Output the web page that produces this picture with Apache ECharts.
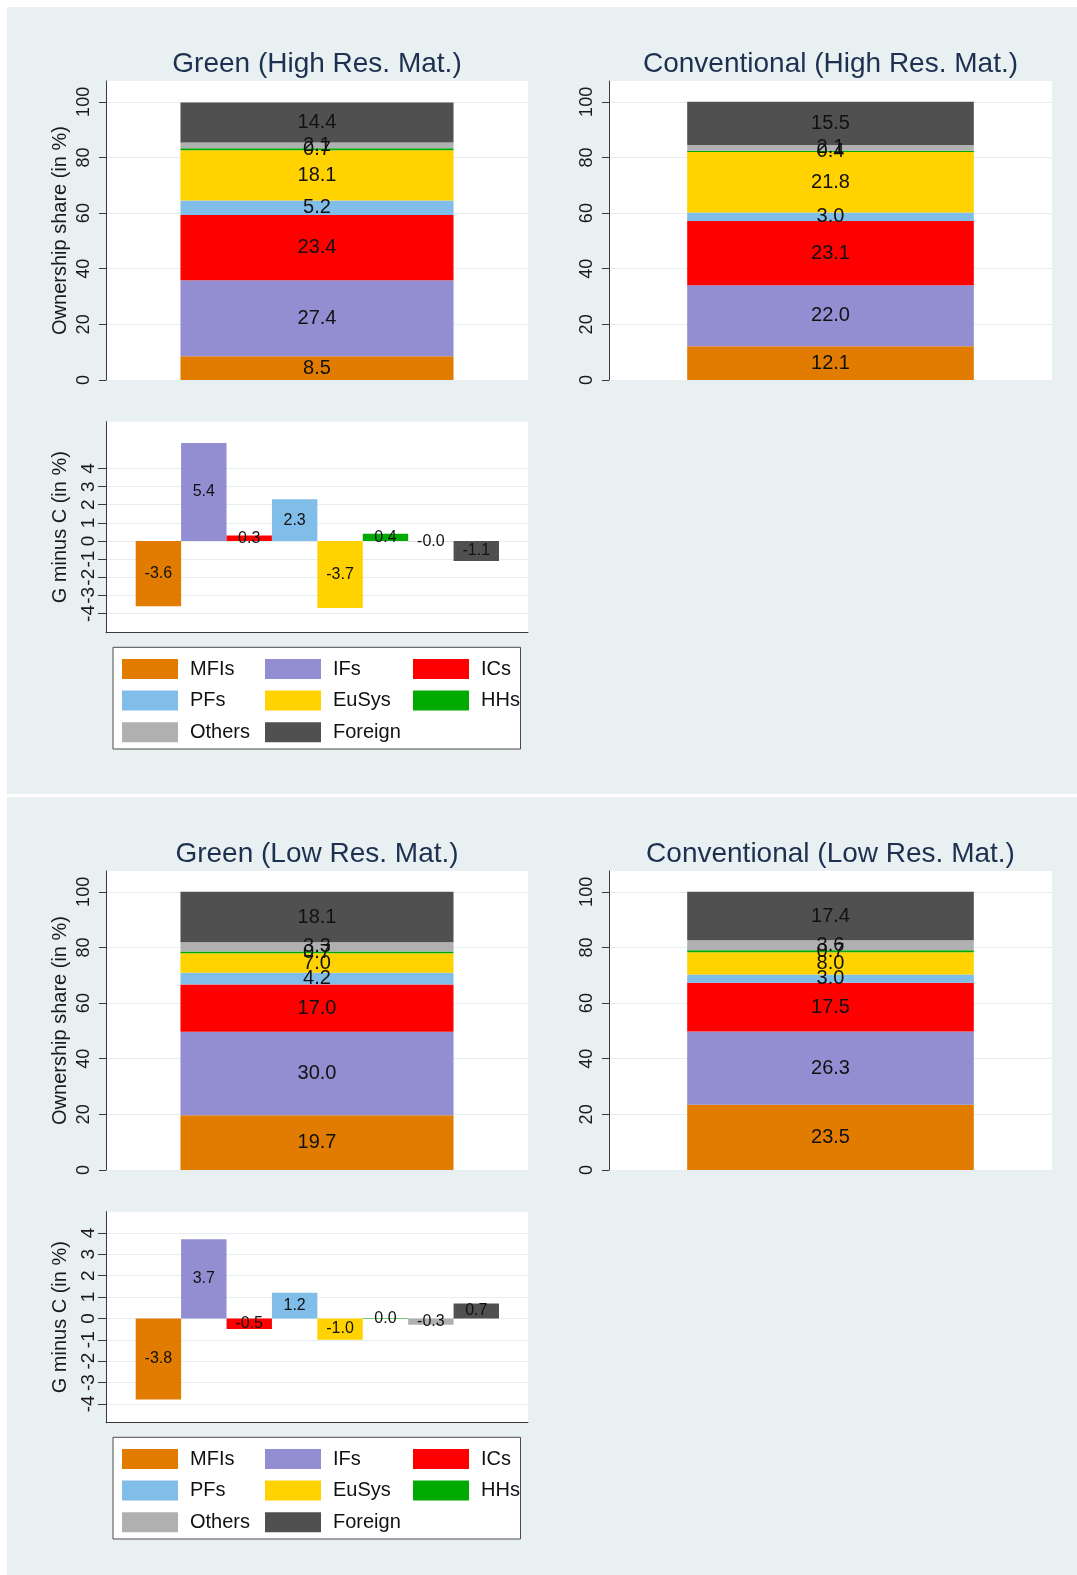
<!DOCTYPE html>
<html>
<head>
    <meta charset="utf-8">
    <title>Ownership shares</title>
    <script src="https://cdn.jsdelivr.net/npm/echarts@6.0.0/dist/echarts.min.js"></script>
</head>
<style>
    html, body {
        margin: 0;
        background: #ffffff;
    }
    #main {
        width: 1077px;
        height: 1575px;
    }
</style>
<body>
<div id="main"></div>
<script>
    // data
    var categories = ['MFIs', 'IFs', 'ICs', 'PFs', 'EuSys', 'HHs', 'Others', 'Foreign'];
    var greenHigh = [8.5, 27.4, 23.4, 5.2, 18.1, 0.7, 2.1, 14.4];
    var convHigh = [12.1, 22.0, 23.1, 3.0, 21.8, 0.4, 2.1, 15.5];
    var diffHigh = [-3.6, 5.4, 0.3, 2.3, -3.7, 0.4, -0.02, -1.1];
    var greenLow = [19.7, 30.0, 17.0, 4.2, 7.0, 0.7, 3.3, 18.1];
    var convLow = [23.5, 26.3, 17.5, 3.0, 8.0, 0.7, 3.6, 17.4];
    var diffLow = [-3.8, 3.7, -0.5, 1.2, -1.0, 0.02, -0.3, 0.7];
    var shareTicks = [0, 20, 40, 60, 80, 100];
    var diffTicks = [-4, -3, -2, -1, 0, 1, 2, 3, 4];

    var colors = ['#e27c00', '#938dd2', '#ff0000', '#80bde8', '#ffd200', '#00aa00', '#b0b0b0', '#505050'];
    var panelColor = '#e8f0f2';
    var gridColor = '#e4edf0';
    var axisColor = '#3a3a3a';
    var textColor = '#1a1a1a';
    var titleColor = '#1e3050';
    var font = 'Liberation Sans, Arial, sans-serif';

    var grids = [], xAxes = [], yAxes = [], series = [], titles = [], legends = [], shapes = [];

    function whiteRect(x, y, w, h, stroke) {
        shapes.push({
            type: 'rect', z: -5, silent: true,
            shape: {x: x, y: y, width: w, height: h},
            style: {fill: '#ffffff', stroke: stroke || null, lineWidth: stroke ? 1 : 0}
        });
    }

    // one stacked 100% bar
    function stackedChart(left, width, dy, title, values, withName, stackId) {
        var top = 81 + dy, height = 299;
        var gi = grids.length;
        grids.push({left: left, top: top, width: width, height: height});
        whiteRect(left, top, width, height);
        xAxes.push({gridIndex: gi, type: 'category', data: ['all'], show: false});
        yAxes.push({
            gridIndex: gi, type: 'value', min: 0, max: 107.5, interval: 20,
            axisLine: {show: true, lineStyle: {color: axisColor, width: 1}},
            axisTick: {show: true, length: 7, customValues: shareTicks, lineStyle: {color: axisColor}},
            axisLabel: {
                rotate: 90, margin: 13, fontSize: 18, color: textColor, fontFamily: font,
                customValues: shareTicks,
                formatter: function (v) { return v <= 100 ? String(v) : ''; }
            },
            splitLine: {show: true, lineStyle: {color: gridColor, width: 1}},
            name: withName ? 'Ownership share (in %)' : '',
            nameLocation: 'middle', nameGap: 36,
            nameTextStyle: {fontSize: 20, color: textColor, fontFamily: font}
        });
        for (var i = 0; i < categories.length; i++) {
            series.push({
                type: 'bar', name: categories[i], stack: stackId,
                xAxisIndex: gi, yAxisIndex: gi,
                barWidth: '64.7%',
                data: [values[i]],
                itemStyle: {color: colors[i]},
                label: {
                    show: true, position: 'inside', color: '#111', fontSize: 20, fontFamily: font,
                    formatter: function (p) { return p.value.toFixed(1); }
                }
            });
        }
        titles.push({
            text: title, left: left + width / 2, top: 50 + dy, textAlign: 'center', padding: 0,
            textStyle: {fontSize: 28, fontWeight: 'normal', color: titleColor, fontFamily: font}
        });
    }

    // G minus C bars; range is the y extent of the plot region
    function diffChart(dy, values, range) {
        var left = 106, width = 422, top = 421.7 + dy, height = 211;
        var min = range[0], max = range[1];
        whiteRect(left, top, width, height);

        // frame with axis lines and title
        var gb = grids.length;
        grids.push({left: left, top: top, width: width, height: height});
        xAxes.push({
            gridIndex: gb, type: 'value', min: 0, max: 1,
            axisLine: {show: true, onZero: false, lineStyle: {color: axisColor}},
            axisTick: {show: false}, axisLabel: {show: false}, splitLine: {show: false}
        });
        yAxes.push({
            gridIndex: gb, type: 'value', min: min, max: max,
            axisLine: {show: true, onZero: false, lineStyle: {color: axisColor}},
            axisTick: {show: false}, axisLabel: {show: false}, splitLine: {show: false},
            name: 'G minus C (in %)', nameLocation: 'middle', nameGap: 36,
            nameTextStyle: {fontSize: 20, color: textColor, fontFamily: font}
        });

        // ticks, labels and grid lines from -4 to 4
        var px = height / (max - min);
        var gt = grids.length;
        grids.push({left: left, top: top + (max - 4) * px, width: width, height: 8 * px});
        xAxes.push({gridIndex: gt, type: 'value', min: 0, max: 1, show: false});
        yAxes.push({
            gridIndex: gt, type: 'value', min: -4, max: 4, interval: 1,
            axisLine: {show: false},
            axisTick: {show: true, length: 8, lineStyle: {color: axisColor}},
            axisLabel: {rotate: 90, margin: 8, fontSize: 19, color: textColor, fontFamily: font},
            splitLine: {show: true, lineStyle: {color: gridColor, width: 1}}
        });

        // the bars themselves
        var gd = grids.length;
        grids.push({left: 135.7, top: top, width: 363.3, height: height});
        xAxes.push({gridIndex: gd, type: 'category', data: categories, show: false});
        yAxes.push({gridIndex: gd, type: 'value', min: min, max: max, show: false});
        series.push({
            type: 'bar', name: 'diff' + dy,
            xAxisIndex: gd, yAxisIndex: gd,
            barCategoryGap: '0%',
            data: values.map(function (v, i) {
                return {value: v, itemStyle: {color: colors[i]}};
            }),
            label: {
                show: true, position: 'inside', color: '#111', fontSize: 16, fontFamily: font,
                formatter: function (p) { return p.value.toFixed(1); }
            }
        });
    }

    function legendBlock(dy) {
        whiteRect(113, 647.3 + dy, 407.5, 101.7, '#4a4a4a');
        var cols = [[0, 3, 6], [1, 4, 7], [2, 5]];
        var lefts = [122, 265, 413];
        for (var k = 0; k < cols.length; k++) {
            legends.push({
                orient: 'vertical', left: lefts[k], top: 659 + dy, padding: 0,
                itemWidth: 56, itemHeight: 20, itemGap: 11.6, icon: 'rect', selectedMode: false,
                data: cols[k].map(function (i) { return categories[i]; }),
                textStyle: {fontSize: 20, color: '#111', fontFamily: font, padding: [0, 0, 0, 7]}
            });
        }
    }

    function panel(dy, h, tag, green, conv, diff, range) {
        shapes.push({
            type: 'rect', z: -10, silent: true,
            shape: {x: 7, y: 7 + dy, width: 1070, height: h},
            style: {fill: panelColor}
        });
        stackedChart(106, 422, dy, 'Green (' + tag + ')', green, true, 'g' + dy);
        stackedChart(609, 443, dy, 'Conventional (' + tag + ')', conv, false, 'c' + dy);
        diffChart(dy, diff, range);
        legendBlock(dy);
    }

    panel(0, 787, 'High Res. Mat.', greenHigh, convHigh, diffHigh, [-5.06, 6.58]);
    panel(790, 778, 'Low Res. Mat.', greenLow, convLow, diffLow, [-4.88, 4.99]);

    var chart = echarts.init(document.getElementById('main'), null, {renderer: 'canvas'});
    chart.setOption({
        animation: false,
        textStyle: {fontFamily: font},
        title: titles,
        legend: legends,
        grid: grids,
        xAxis: xAxes,
        yAxis: yAxes,
        series: series,
        graphic: {elements: shapes}
    });
</script>
</body>
</html>
